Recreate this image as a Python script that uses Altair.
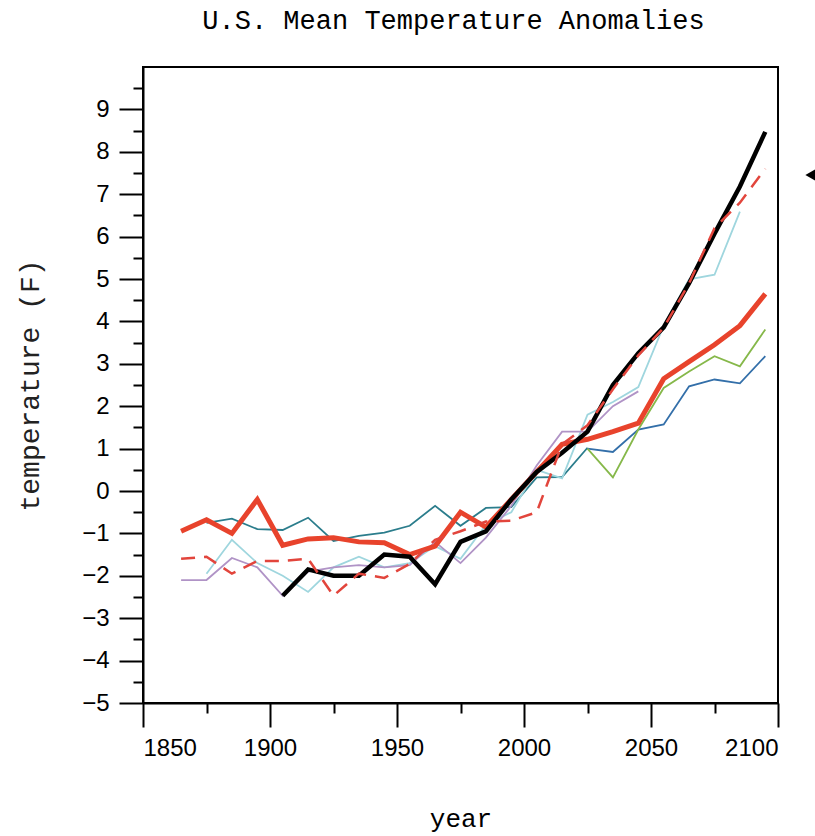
import altair as alt
import pandas as pd

years = [1865, 1875, 1885, 1895, 1905, 1915, 1925, 1935, 1945, 1955, 1965, 1975,
         1985, 1995, 2005, 2015, 2025, 2035, 2045, 2055, 2065, 2075, 2085, 2095]

red_thick = [-0.95, -0.68, -1.0, -0.2, -1.28, -1.13, -1.1, -1.2, -1.22, -1.5, -1.3, -0.5,
             -0.85, -0.2, 0.45, 1.1, 1.22, 1.4, 1.6, 2.65, 3.05, 3.45, 3.9, 4.65]
red_dashed = [-1.6, -1.55, -1.95, -1.65, -1.65, -1.6, -2.47, -1.95, -2.05, -1.72, -1.15, -0.95,
              -0.72, -0.7, -0.5, 1.1, 1.55, 2.4, 3.2, 3.85, 4.9, 6.2, 6.8, 7.6]
black = [None, None, None, None, -2.47, -1.85, -2.0, -2.0, -1.5, -1.55, -2.2, -1.2,
         -0.95, -0.2, 0.45, 0.9, 1.4, 2.5, 3.25, 3.86, 4.9, 6.07, 7.18, 8.47]
teal = [None, -0.75, -0.65, -0.9, -0.92, -0.63, -1.18, -1.06, -0.98, -0.82, -0.35, -0.82,
        -0.4, -0.38, 0.32, 0.33, 1.02, None, None, None, None, None, None, None]
blue = [None, None, None, None, None, None, None, None, None, None, None, None,
        None, None, None, None, 1.0, 0.92, 1.45, 1.57, 2.47, 2.63, 2.54, 3.18]
green = [None, None, None, None, None, None, None, None, None, None, None, None,
         None, None, None, None, 1.0, 0.32, 1.45, 2.43, 2.82, 3.18, 2.94, 3.81]
cyan = [None, -1.95, -1.15, -1.7, -2.0, -2.38, -1.8, -1.55, -1.8, -1.7, -1.3, -1.6,
        -0.8, -0.5, 0.5, 0.3, 1.8, 2.1, 2.45, 3.9, 4.99, 5.1, 6.59, None]
purple = [-2.1, -2.1, -1.58, -1.8, -2.47, -1.9, -1.8, -1.75, -1.8, -1.75, -1.2, -1.7,
          -1.1, -0.35, 0.6, 1.4, 1.4, 2.0, 2.35, None, None, None, None, None]

y_major = [-5, -4, -3, -2, -1, 0, 1, 2, 3, 4, 5, 6, 7, 8, 9]
y_minor = [-4.5, -3.5, -2.5, -1.5, -0.5, 0.5, 1.5, 2.5, 3.5, 4.5, 5.5, 6.5, 7.5, 8.5, 9.5]
x_major = [1850, 1900, 1950, 2000, 2050, 2100]
x_minor = [1875, 1925, 1975, 2025, 2075]


def long(name, vals):
    return [{"year": y, "temp": v, "series": name} for y, v in zip(years, vals) if v is not None]


thin_names = ["teal", "blue", "green", "cyan", "purple"]
thin_colors = ["#2b7d8c", "#336fa9", "#86b84a", "#9fd6de", "#b093c6"]
thin_df = pd.DataFrame(long("teal", teal) + long("blue", blue) + long("green", green)
                       + long("cyan", cyan) + long("purple", purple))
red_df = pd.DataFrame(long("red", red_thick))
dash_df = pd.DataFrame(long("dash", red_dashed))
black_df = pd.DataFrame(long("black", black))

xs = alt.Scale(domain=[1850, 2100], nice=False, zero=False)
ys = alt.Scale(domain=[-5, 10], nice=False, zero=False)

lab_font = "Liberation Sans"
mono = "Liberation Mono"

x_main = alt.Axis(values=x_major, format="d", tickSize=24, tickWidth=2, tickColor="black",
                  domainColor="black", domainWidth=2, labelFont=lab_font, labelFontSize=24,
                  labelColor="black", labelPadding=9, grid=False, orient="bottom",
                  title="year", titleFont=mono, titleFontSize=26, titleFontWeight="normal",
                  titleColor="black", titleY=115, titleBaseline="middle")
y_main = alt.Axis(values=y_major, format="d", tickSize=24, tickWidth=2, tickColor="black",
                  domainColor="black", domainWidth=2, labelFont=lab_font, labelFontSize=24,
                  labelColor="black", labelPadding=10, grid=False, orient="left",
                  title="temperature (F)", titleFont=mono, titleFontSize=28,
                  titleFontWeight="normal", titleColor="#222222", titleX=-113, titleY=318,
                  titleBaseline="middle", titleAngle=-90)
x_min = alt.Axis(values=x_minor, tickSize=10, tickWidth=2, tickColor="black", labels=False,
                 domain=False, grid=False, orient="bottom", title=None)
y_min = alt.Axis(values=y_minor, tickSize=10, tickWidth=2, tickColor="black", labels=False,
                 domain=False, grid=False, orient="left", title=None)

thin = alt.Chart(thin_df).mark_line(strokeWidth=1.8).encode(
    x=alt.X("year:Q", scale=xs, axis=x_main),
    y=alt.Y("temp:Q", scale=ys, axis=y_main),
    color=alt.Color("series:N", scale=alt.Scale(domain=thin_names, range=thin_colors), legend=None),
)

red = alt.Chart(red_df).mark_line(strokeWidth=5, color="#e8432c").encode(
    x=alt.X("year:Q", scale=xs, axis=x_min),
    y=alt.Y("temp:Q", scale=ys, axis=y_min),
)

blk = alt.Chart(black_df).mark_line(strokeWidth=4.5, color="black").encode(
    x=alt.X("year:Q", scale=xs, axis=None),
    y=alt.Y("temp:Q", scale=ys, axis=None),
)

dash = alt.Chart(dash_df).mark_line(strokeWidth=2.5, color="#e2453c", strokeDash=[14, 9]).encode(
    x=alt.X("year:Q", scale=xs, axis=None),
    y=alt.Y("temp:Q", scale=ys, axis=None),
)

arrow = alt.Chart(pd.DataFrame({"a": [0]})).mark_point(
    shape="triangle-left", filled=True, color="black", opacity=1, size=170
).encode(x=alt.value(668), y=alt.value(108))

chart = alt.layer(thin, red, blk, dash, arrow).resolve_axis(x="independent", y="independent").properties(
    width=635,
    height=636,
    autosize=alt.AutoSizeParams(type="none"),
    padding={"left": 143, "top": 67, "right": 37, "bottom": 133},
    title=alt.TitleParams("U.S. Mean Temperature Anomalies", font=mono, fontSize=27,
                          fontWeight="normal", color="black", anchor="middle",
                          baseline="alphabetic", offset=11, dx=-7),
).configure(background="white").configure_view(stroke="black", strokeWidth=2)

chart.save("out.html", embed_options={"renderer": "svg", "actions": False})
